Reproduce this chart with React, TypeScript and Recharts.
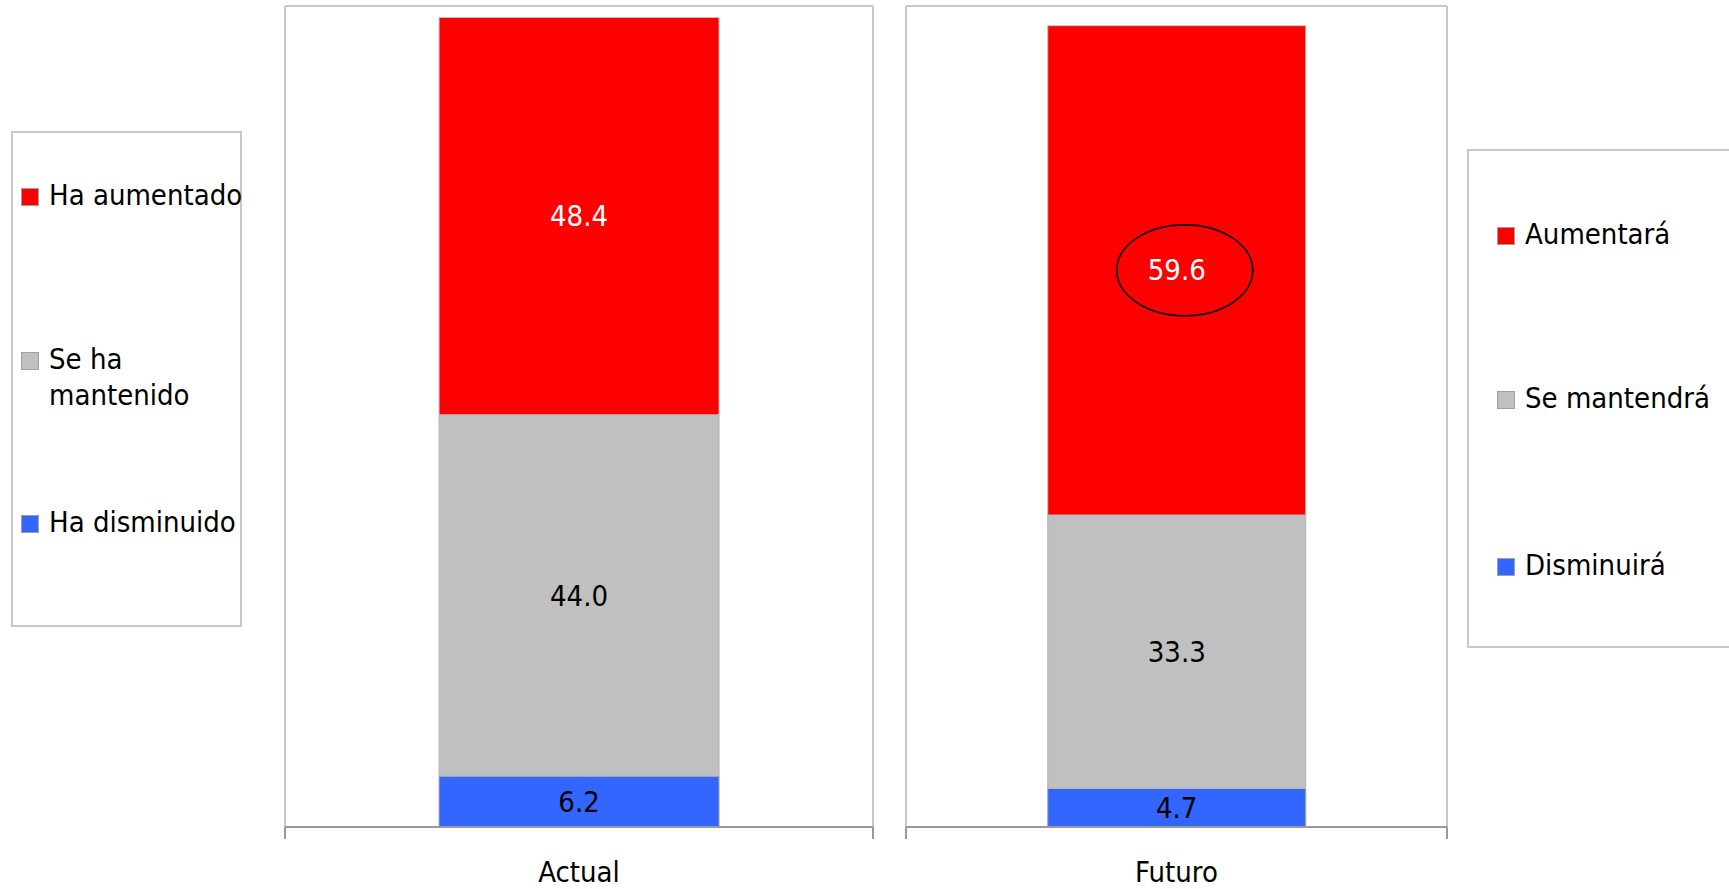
import React from 'react';
import { BarChart, Bar, XAxis, YAxis, CartesianGrid, LabelList } from 'recharts';

// ---------- data ----------
const actualCategories = ['Actual'];
const futuroCategories = ['Futuro'];
const actualSeriesNames = ['Ha aumentado', 'Se ha mantenido', 'Ha disminuido'];
const futuroSeriesNames = ['Aumentará', 'Se mantendrá', 'Disminuirá'];
const actualAumento = [48.4];
const actualMantenido = [44.0];
const actualDisminuido = [6.2];
const futuroAumento = [59.6];
const futuroMantenido = [33.3];
const futuroDisminuido = [4.7];
const seriesColors = ['#FF0000', '#C0C0C0', '#3366FF'];
const labelColors = ['#FFFFFF', '#000000', '#000000'];
const yDomain = [0, 100];

// ---------- style ----------
const FONT = "'DejaVu Sans Condensed', 'DejaVu Sans', sans-serif";
const FS = 29;
const FRAME = '#c8c8c8';
const AXIS = '#999999';

const actualData = actualCategories.map((c, i) => ({
  cat: c,
  up: actualAumento[i],
  same: actualMantenido[i],
  down: actualDisminuido[i],
}));
const futuroData = futuroCategories.map((c, i) => ({
  cat: c,
  up: futuroAumento[i],
  same: futuroMantenido[i],
  down: futuroDisminuido[i],
}));

const EdgeTick = (props: any) => {
  const { x, y, payload } = props;
  const half = payload && payload.offset ? payload.offset : (props.width || 0) / 2;
  return (
    <g>
      <line x1={x - half} x2={x - half} y1={y - 12} y2={y} stroke={AXIS} strokeWidth={2} />
      <line x1={x + half} x2={x + half} y1={y - 12} y2={y} stroke={AXIS} strokeWidth={2} />
      <text x={x} y={y + 43} textAnchor="middle" fill="#000" fontSize={FS} fontFamily={FONT}>
        {payload.value}
      </text>
    </g>
  );
};

const EllipseLabel = (props: any) => {
  const { x, y, width, height, value } = props;
  const cx = Number(x) + Number(width) / 2;
  const cy = Number(y) + Number(height) / 2;
  return (
    <g>
      <ellipse cx={cx + 8} cy={cy} rx={68} ry={45.5} fill="none" stroke="#000" strokeWidth={1.6} />
      <text
        x={cx}
        y={cy}
        textAnchor="middle"
        dominantBaseline="central"
        fill="#fff"
        fontSize={FS}
        fontFamily={FONT}
      >
        {Number(value).toFixed(1)}
      </text>
    </g>
  );
};

const fmt = (v: any) => Number(v).toFixed(1);

type PanelProps = {
  data: any[];
  left: number;
  width: number;
  circled?: boolean;
};

const PAD = 3;

const Panel = ({ data, left, width, circled }: PanelProps) => (
  <div style={{ position: 'absolute', left: left - PAD, top: 0 }}>
    <BarChart
      width={width + 2 * PAD}
      height={889}
      data={data}
      margin={{ top: 6, right: PAD, bottom: 0, left: PAD }}
      barCategoryGap="26.2%"
    >
      <CartesianGrid
        stroke={FRAME}
        strokeWidth={2}
        horizontalCoordinatesGenerator={({ offset }: any) => [offset.top]}
        verticalCoordinatesGenerator={({ offset }: any) => [offset.left, offset.left + offset.width]}
      />
      <XAxis
        dataKey="cat"
        height={62}
        axisLine={{ stroke: AXIS, strokeWidth: 2 }}
        tickLine={false}
        tickSize={12}
        tickMargin={0}
        tick={<EdgeTick />}
        interval={0}
      />
      <YAxis hide domain={yDomain} type="number" allowDataOverflow />
      <Bar dataKey="down" stackId="s" fill={seriesColors[2]} stroke="#a6a6a6" strokeWidth={1} isAnimationActive={false}>
        <LabelList dataKey="down" position="center" fill={labelColors[2]} fontSize={FS} fontFamily={FONT} formatter={fmt} />
      </Bar>
      <Bar dataKey="same" stackId="s" fill={seriesColors[1]} stroke="#b4b4b4" strokeWidth={1} isAnimationActive={false}>
        <LabelList dataKey="same" position="center" fill={labelColors[1]} fontSize={FS} fontFamily={FONT} formatter={fmt} />
      </Bar>
      <Bar dataKey="up" stackId="s" fill={seriesColors[0]} stroke="#c0c0c0" strokeWidth={1} isAnimationActive={false}>
        {circled ? (
          <LabelList dataKey="up" content={<EllipseLabel />} />
        ) : (
          <LabelList dataKey="up" position="center" fill={labelColors[0]} fontSize={FS} fontFamily={FONT} formatter={fmt} />
        )}
      </Bar>
    </BarChart>
  </div>
);

type LegendProps = {
  names: string[];
  box: { left: number; top: number; width: number; height: number };
  itemTops: number[];
  swatchLeft: number;
  textLeft: number;
};

const LINE = 36.5;

const LegendBox = ({ names, box, itemTops, swatchLeft, textLeft }: LegendProps) => (
  <div
    style={{
      position: 'absolute',
      left: box.left,
      top: box.top,
      width: box.width,
      height: box.height,
      border: `2px solid ${FRAME}`,
      boxSizing: 'border-box',
      fontFamily: FONT,
      fontSize: FS,
      color: '#000',
    }}
  >
    {names.map((n, i) => (
      <div key={n} style={{ position: 'absolute', left: 0, top: itemTops[i] - LINE / 2, width: '100%' }}>
        <div
          style={{
            position: 'absolute',
            left: swatchLeft,
            top: LINE / 2 - 9,
            width: 16,
            height: 16,
            background: seriesColors[i],
            border: '1px solid #a0a0a0',
          }}
        />
        <div
          style={{
            position: 'absolute',
            left: textLeft,
            top: -2,
            width: 222,
            lineHeight: `${LINE}px`,
            whiteSpace: 'normal',
          }}
        >
          {n}
        </div>
      </div>
    ))}
  </div>
);

export default function App() {
  return (
    <div style={{ position: 'absolute', left: 0, top: 0, width: 1729, height: 889, background: '#fff', overflow: 'hidden' }}>
      <LegendBox
        names={actualSeriesNames}
        box={{ left: 11, top: 131, width: 231, height: 496 }}
        itemTops={[64, 228, 391]}
        swatchLeft={8}
        textLeft={36}
      />
      <Panel data={actualData} left={285} width={588} />
      <Panel data={futuroData} left={906} width={541} circled />
      <LegendBox
        names={futuroSeriesNames}
        box={{ left: 1467, top: 149, width: 264, height: 499 }}
        itemTops={[85, 249, 416]}
        swatchLeft={28}
        textLeft={56}
      />
    </div>
  );
}
